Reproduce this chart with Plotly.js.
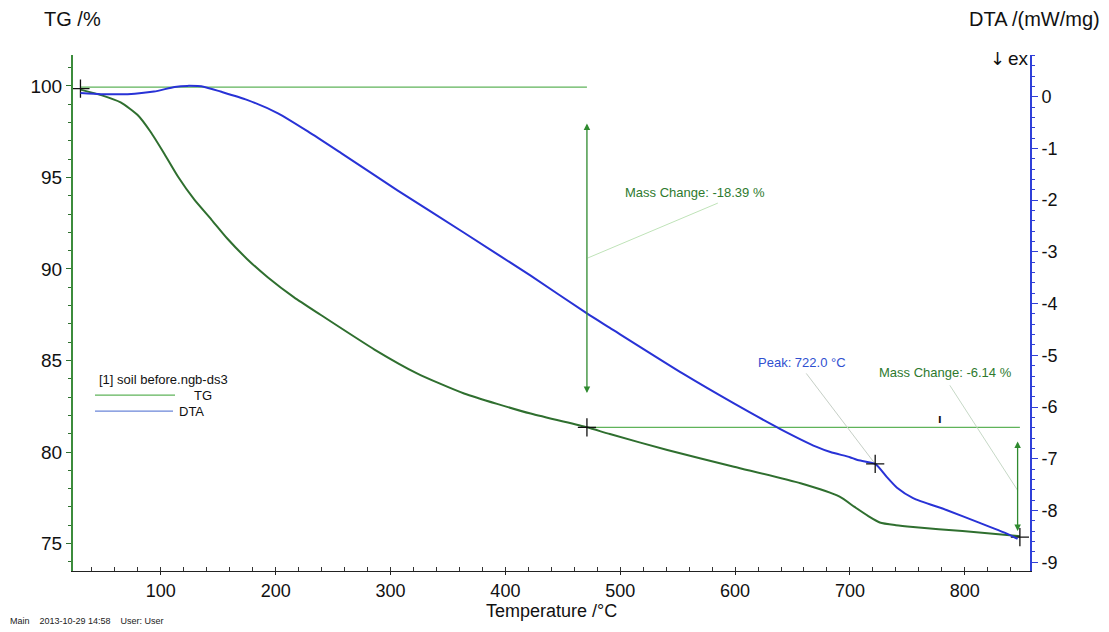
<!DOCTYPE html>
<html>
<head>
<meta charset="utf-8">
<script src="https://cdn.plot.ly/plotly-3.0.1.min.js"></script>
<style>
html,body{margin:0;padding:0;background:#fff;}
#chart{width:1109px;height:632px;}
</style>
</head>
<body>
<div id="chart"></div>
<script>
// ---- data ----
const tgTemp  = [30, 48, 65, 80, 91, 103, 115, 129, 144, 158, 175, 193, 216, 239, 286, 323, 364, 422, 471, 491, 541, 599, 657, 691, 704, 716, 726, 740, 755, 798, 848];
const tgValue = [99.8, 99.5, 99.1, 98.4, 97.5, 96.3, 95.04, 93.8, 92.7, 91.65, 90.55, 89.55, 88.45, 87.5, 85.6, 84.3, 83.2, 82.1, 81.35, 80.98, 80.11, 79.2, 78.29, 77.56, 77.0, 76.5, 76.15, 76.0, 75.9, 75.68, 75.4];

const dtaTemp  = [30, 48, 71, 94, 112, 123, 138, 152, 175, 202, 228, 257, 306, 364, 422, 471, 491, 555, 599, 639, 671, 683, 700, 706, 722, 732, 741, 755, 784, 813, 839, 846];
const dtaValue = [0.07, 0.05, 0.05, 0.1, 0.19, 0.21, 0.19, 0.1, -0.06, -0.32, -0.67, -1.09, -1.81, -2.63, -3.46, -4.19, -4.47, -5.36, -5.93, -6.42, -6.77, -6.87, -6.97, -7.02, -7.1, -7.35, -7.56, -7.76, -7.99, -8.24, -8.47, -8.55];

const xTickVals   = [100, 200, 300, 400, 500, 600, 700, 800];
const tgTickVals  = [75, 80, 85, 90, 95, 100];
const dtaTickVals = [0, -1, -2, -3, -4, -5, -6, -7, -8, -9];
const dtaTickText = ["0", "-1", "-2", "-3", "-4", "-5", "-6", "-7", "-8", "-9"];

// evaluation marks
const stepTemp   = [30, 471, 848];
const stepLevel  = [99.93, 81.35, 75.45];
const massChangeLabels = ["Mass Change: -18.39 %", "Mass Change: -6.14 %"];
const peakTemp  = 722.0;
const peakDTA   = -7.1;
const peakLabel = "Peak: 722.0 °C";
const crossTemp = [30, 471, 848];
const crossTG   = [99.85, 81.35, 75.35];

const arrowTemp = [471, 846];
const arrowFrom = [98.03, 80.66];
const arrowTo   = [83.22, 75.68];

const labelTemp = [565.5, 783];
const labelTG   = [94.2];
const labelDTA  = [-5.33];
const peakLabelTemp = 658, peakLabelDTA = -5.13;

const leader1Temp = [471.7, 585], leader1TG = [90.6, 93.6];
const leader2Temp = [662, 723],  leader2DTA = [-5.35, -7.13];
const leader3Temp = [787, 846],  leader3DTA = [-5.58, -7.61];

const FONT = "Liberation Sans, Arial, sans-serif";
const TG_COLOR = "#2f6f2f";
const DTA_COLOR = "#2832d6";
const LEVEL_COLOR = "#5fb35a";
const TEXT_GREEN = "#2e7a2e";

const traces = [
  {x:[stepTemp[0], stepTemp[1]], y:[stepLevel[0], stepLevel[0]], mode:"lines", line:{color:LEVEL_COLOR, width:1.3}, yaxis:"y", hoverinfo:"skip", showlegend:false},
  {x:[stepTemp[1], stepTemp[2]], y:[stepLevel[1], stepLevel[1]], mode:"lines", line:{color:LEVEL_COLOR, width:1.3}, yaxis:"y", hoverinfo:"skip", showlegend:false},
  {x:leader1Temp, y:leader1TG, mode:"lines", line:{color:"#bfe3b8", width:1}, yaxis:"y", showlegend:false, hoverinfo:"skip"},
  {x:leader2Temp, y:leader2DTA, mode:"lines", line:{color:"#c6cfc6", width:1}, yaxis:"y2", showlegend:false, hoverinfo:"skip"},
  {x:leader3Temp, y:leader3DTA, mode:"lines", line:{color:"#c6d8c6", width:1}, yaxis:"y2", showlegend:false, hoverinfo:"skip"},
  {x:tgTemp, y:tgValue, mode:"lines", name:"TG", line:{color:TG_COLOR, width:2, shape:"spline", smoothing:0.6}, yaxis:"y", showlegend:false},
  {x:dtaTemp, y:dtaValue, mode:"lines", name:"DTA", line:{color:DTA_COLOR, width:2, shape:"spline", smoothing:0.6}, yaxis:"y2", showlegend:false},
  {x:crossTemp, y:crossTG, mode:"markers", marker:{symbol:"cross-thin", size:13, line:{color:"#111", width:1.3}}, yaxis:"y", showlegend:false, hoverinfo:"skip"},
  {x:[peakTemp], y:[peakDTA], mode:"markers", marker:{symbol:"cross-thin", size:13, line:{color:"#111", width:1.3}}, yaxis:"y2", showlegend:false, hoverinfo:"skip"}
];

const annotations = [
  {x:arrowTemp[0], y:arrowTo[0], ax:arrowTemp[0], ay:arrowFrom[0], xref:"x", yref:"y", axref:"x", ayref:"y", text:"", showarrow:true, arrowhead:2, startarrowhead:2, arrowside:"end+start", arrowsize:1, arrowwidth:1.3, arrowcolor:"#2f8a2f"},
  {x:arrowTemp[1], y:arrowTo[1], ax:arrowTemp[1], ay:arrowFrom[1], xref:"x", yref:"y", axref:"x", ayref:"y", text:"", showarrow:true, arrowhead:2, startarrowhead:2, arrowside:"end+start", arrowsize:1, arrowwidth:1.3, arrowcolor:"#2f8a2f"},
  {x:labelTemp[0], y:labelTG[0], xref:"x", yref:"y", text:massChangeLabels[0], showarrow:false, font:{family:FONT, size:13, color:TEXT_GREEN}},
  {x:labelTemp[1], y:labelDTA[0], xref:"x", yref:"y2", text:massChangeLabels[1], showarrow:false, font:{family:FONT, size:13, color:TEXT_GREEN}},
  {x:peakLabelTemp, y:peakLabelDTA, xref:"x", yref:"y2", text:peakLabel, showarrow:false, font:{family:FONT, size:13, color:"#3050d0"}},
  {x:778.5, y:-6.22, xref:"x", yref:"y2", text:"<b>ı</b>", showarrow:false, font:{family:FONT, size:13, color:"#111"}},
  {x:0, y:1, xref:"paper", yref:"paper", xanchor:"left", yanchor:"bottom", xshift:-31, yshift:23, text:"TG /%", showarrow:false, font:{family:FONT, size:20, color:"#111"}},
  {x:1, y:1, xref:"paper", yref:"paper", xanchor:"right", yanchor:"bottom", xshift:72, yshift:23, text:"DTA /(mW/mg)", showarrow:false, font:{family:FONT, size:20, color:"#111"}},
  {x:1, y:1, xref:"paper", yref:"paper", xanchor:"right", yanchor:"middle", xshift:-23, yshift:-3, text:"↓", showarrow:false, font:{family:"DejaVu Sans", size:18, color:"#111"}},
  {x:1, y:1, xref:"paper", yref:"paper", xanchor:"right", yanchor:"middle", xshift:1, yshift:-3, text:"ex", showarrow:false, font:{family:FONT, size:19, color:"#111"}},
  {x:0.5, y:0, xref:"paper", yref:"paper", xanchor:"center", yanchor:"middle", yshift:-40, text:"Temperature /°C", showarrow:false, font:{family:FONT, size:18, color:"#111"}},
  {x:0.0251, y:0.372, xref:"paper", yref:"paper", xanchor:"left", yanchor:"middle", text:"[1] soil before.ngb-ds3", showarrow:false, font:{family:FONT, size:13, color:"#111"}},
  {x:0.124, y:0.340, xref:"paper", yref:"paper", xanchor:"left", yanchor:"middle", text:"TG", showarrow:false, font:{family:FONT, size:13, color:"#111"}},
  {x:0.109, y:0.310, xref:"paper", yref:"paper", xanchor:"left", yanchor:"middle", text:"DTA", showarrow:false, font:{family:FONT, size:13, color:"#111"}},
  {x:0, y:0, xref:"paper", yref:"paper", xanchor:"left", yanchor:"middle", xshift:-65, yshift:-50, text:"Main&nbsp;&nbsp;&nbsp;&nbsp;2013-10-29 14:58&nbsp;&nbsp;&nbsp;&nbsp;User: User", showarrow:false, font:{family:FONT, size:9, color:"#222"}}
];

const shapes = [
  {type:"line", xref:"paper", yref:"paper", x0:0.0230, x1:0.1066, y0:0.341, y1:0.341, line:{color:"#5fb35a", width:1.3}},
  {type:"line", xref:"paper", yref:"paper", x0:0.0230, x1:0.1045, y0:0.310, y1:0.310, line:{color:"#6b86d8", width:1.3}}
];

const layout = {
  width:1109, height:632,
  margin:{l:73, r:79, t:55, b:61},
  paper_bgcolor:"#fff", plot_bgcolor:"#fff",
  font:{family:FONT, color:"#111"},
  showlegend:false,
  xaxis:{
    range:[23.5, 856.8], showgrid:false, zeroline:false,
    showline:true, linecolor:"#222", linewidth:1.3,
    ticks:"outside", ticklen:3, tickcolor:"#222", tickvals:xTickVals,
    tickfont:{family:FONT, size:18, color:"#111"},
    minor:{dtick:20, tick0:0, ticks:"inside", ticklen:4, tickcolor:"#333"}
  },
  yaxis:{
    range:[73.5, 101.69], showgrid:false, zeroline:false,
    showline:true, linecolor:"#3c8c3c", linewidth:2,
    ticks:"outside", ticklen:5, tickcolor:"#2f6f2f", tickvals:tgTickVals,
    tickfont:{family:FONT, size:19, color:"#111"},
    minor:{dtick:1, tick0:0, ticks:"outside", ticklen:3, tickcolor:"#2f6f2f"}
  },
  yaxis2:{
    range:[-9.17, 0.807], overlaying:"y", side:"right", showgrid:false, zeroline:false,
    showline:true, linecolor:"#2f3fd8", linewidth:2,
    ticks:"outside", ticklen:6, tickcolor:"#2f3fd8", tickvals:dtaTickVals, ticktext:dtaTickText,
    tickfont:{family:FONT, size:18, color:"#111"},
    minor:{dtick:0.2, tick0:0, ticks:"outside", ticklen:3, tickcolor:"#2f3fd8"}
  },
  annotations:annotations,
  shapes:shapes
};

Plotly.newPlot("chart", traces, layout, {displayModeBar:false, staticPlot:true});
</script>
</body>
</html>
